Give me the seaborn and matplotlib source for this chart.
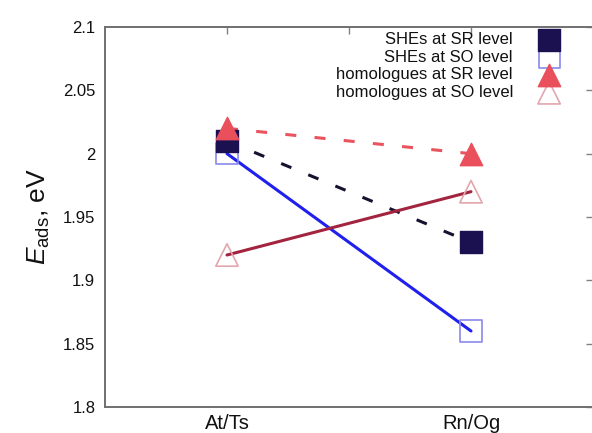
import matplotlib
matplotlib.use("Agg")
import matplotlib.pyplot as plt
import seaborn as sns
import pandas as pd

# Adsorption energies (eV) on the two element pairs
categories = ["At/Ts", "Rn/Og"]
she_sr = [2.01, 1.93]
she_so = [2.00, 1.86]
hom_sr = [2.02, 2.00]
hom_so = [1.92, 1.97]

series_names = ["SHEs at SR level", "SHEs at SO level",
                "homologues at SR level", "homologues at SO level"]
series_values = [she_sr, she_so, hom_sr, hom_so]

y_ticks = [1.8, 1.85, 1.9, 1.95, 2.0, 2.05, 2.1]
y_tick_labels = ["1.8", "1.85", "1.9", "1.95", "2", "2.05", "2.1"]

rows = []
for name, vals in zip(series_names, series_values):
    for i, (cat, v) in enumerate(zip(categories, vals)):
        rows.append({"series": name, "pos": i + 1, "element": cat, "E": v})
df = pd.DataFrame(rows)

sns.set_theme(style="white")
plt.rcParams["font.family"] = ["Liberation Sans", "DejaVu Sans"]
plt.rcParams["mathtext.fontset"] = "custom"
plt.rcParams["mathtext.rm"] = "Liberation Sans"
plt.rcParams["mathtext.it"] = "Liberation Sans:italic"

fig = plt.figure(figsize=(5.92, 4.33), dpi=100)
fig.patch.set_facecolor("white")
ax = fig.add_axes([105 / 592, 26 / 433, 488 / 592, 380 / 433])

# connecting lines
line_styles = {
    "SHEs at SR level": dict(color="#15112e", dashes=(3.6, 6.0)),
    "SHEs at SO level": dict(color="#1f1fee", dashes=None),
    "homologues at SR level": dict(color="#ea545e", dashes=(3.6, 6.0)),
    "homologues at SO level": dict(color="#a3243f", dashes=None),
}
for name in series_names:
    sub = df[df["series"] == name]
    st = line_styles[name]
    sns.lineplot(x="pos", y="E", data=sub, ax=ax, color=st["color"],
                 linewidth=2.2, legend=False, zorder=2)
    if st["dashes"] is not None:
        ax.lines[-1].set_dashes(st["dashes"])
        ax.lines[-1].set_dash_capstyle("butt")

# point styles (open symbols are hollow, lines show through)
marker_styles = {
    "SHEs at SO level": dict(marker="s", s=230, facecolor="none",
                             edgecolor="#8a8aee", linewidth=1.2, z=3),
    "SHEs at SR level": dict(marker="s", s=230, facecolor="#1b1050",
                             edgecolor="#1b1050", linewidth=1.0, z=4),
    "homologues at SO level": dict(marker="^", s=260, facecolor="none",
                                   edgecolor="#e2a6ae", linewidth=1.2, z=3),
    "homologues at SR level": dict(marker="^", s=260, facecolor="#ea505c",
                                   edgecolor="#ea505c", linewidth=1.0, z=5),
}
for name in ["SHEs at SO level", "homologues at SO level",
             "SHEs at SR level", "homologues at SR level"]:
    sub = df[df["series"] == name]
    st = marker_styles[name]
    ax.scatter(sub["pos"], sub["E"], marker=st["marker"], s=st["s"],
               facecolors=st["facecolor"], edgecolors=st["edgecolor"],
               linewidths=st["linewidth"], zorder=st["z"])

ax.set_xlim(0.5, 2.5)
ax.set_ylim(1.8, 2.1)
ax.set_xticks([1, 1.5, 2])
ax.set_xticklabels([categories[0], "", categories[1]], fontsize=14.5)
ax.set_yticks(y_ticks)
ax.set_yticklabels(y_tick_labels, fontsize=12)
ax.tick_params(axis="both", direction="in", length=5, width=1.0,
               color="#808080", top=True, right=True, labelcolor="#111111")
ax.tick_params(axis="x", pad=5)
ax.tick_params(axis="y", pad=7)
for sp in ax.spines.values():
    sp.set_visible(True)
    sp.set_color("#707070")
    sp.set_linewidth(1.4)

ax.set_ylabel(r"$E_{\rm ads}$, eV", fontsize=19, color="#111111", labelpad=8)
ax.set_xlabel("")

# key: right-aligned labels with the point symbol to their right
key_y = [0.966, 0.921, 0.874, 0.827]
key_text_x = 0.836
key_mark_x = 0.910
for name, ky in zip(series_names, key_y):
    ax.text(key_text_x, ky, name, transform=ax.transAxes, ha="right",
            va="center", fontsize=12, color="#111111")
for name in ["SHEs at SO level", "homologues at SO level",
             "SHEs at SR level", "homologues at SR level"]:
    st = marker_styles[name]
    ky = key_y[series_names.index(name)]
    ax.scatter([key_mark_x], [ky], transform=ax.transAxes, marker=st["marker"],
               s=st["s"], facecolors=st["facecolor"],
               edgecolors=st["edgecolor"], linewidths=st["linewidth"],
               zorder=st["z"], clip_on=False)

fig.savefig("out.png", dpi=100, facecolor="white")
